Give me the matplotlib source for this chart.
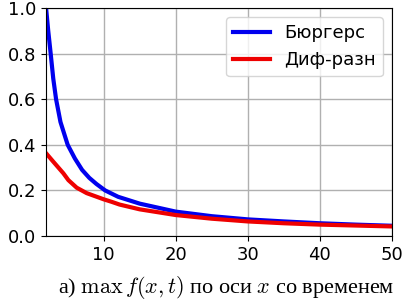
import matplotlib
matplotlib.use('Agg')
import matplotlib.pyplot as plt

# values
x_burgers = [2, 2.3, 2.64, 3, 3.39, 4, 5, 6, 7, 8, 9, 10.2, 12, 15, 20, 25, 30, 35, 40, 45, 50]
y_burgers = [1.0, 0.9, 0.8, 0.69, 0.6, 0.5, 0.4, 0.34, 0.29, 0.255, 0.228, 0.2, 0.172, 0.142,
             0.107, 0.087, 0.073, 0.064, 0.056, 0.05, 0.045]

x_diff = [2, 3, 4.4, 5.1, 6.25, 7.64, 10, 11.1, 12.2, 15, 20, 25, 30, 35, 40, 45, 50]
y_diff = [0.363, 0.326, 0.275, 0.245, 0.212, 0.188, 0.161, 0.15, 0.138, 0.117, 0.092,
          0.076, 0.064, 0.056, 0.05, 0.046, 0.042]

labels = ['Бюргерс', 'Диф-разн']

plt.rcParams['mathtext.fontset'] = 'cm'

fig = plt.figure(figsize=(4.04, 3.03), dpi=100)
ax = fig.add_axes([0.114, 0.221, 0.856, 0.753])

ax.plot(x_burgers, y_burgers, color='#0000ee', lw=3, label=labels[0])
ax.plot(x_diff, y_diff, color='#ee0000', lw=3, label=labels[1])

ax.set_xlim(2, 50)
ax.set_ylim(0, 1)
ax.set_xticks([10, 20, 30, 40, 50])
ax.set_yticks([0, 0.2, 0.4, 0.6, 0.8, 1.0])
ax.tick_params(labelsize=13)
ax.grid(True, color='#b0b0b0', lw=1)

ax.legend(loc='upper right', fontsize=13)

ax.set_xlabel(r'а) $\max\, f(x,t)$ по оси $x$ со временем',
              family='Liberation Serif', fontsize=16)
ax.xaxis.set_label_coords(0.52, -0.165)

fig.savefig('out.png', dpi=100)
